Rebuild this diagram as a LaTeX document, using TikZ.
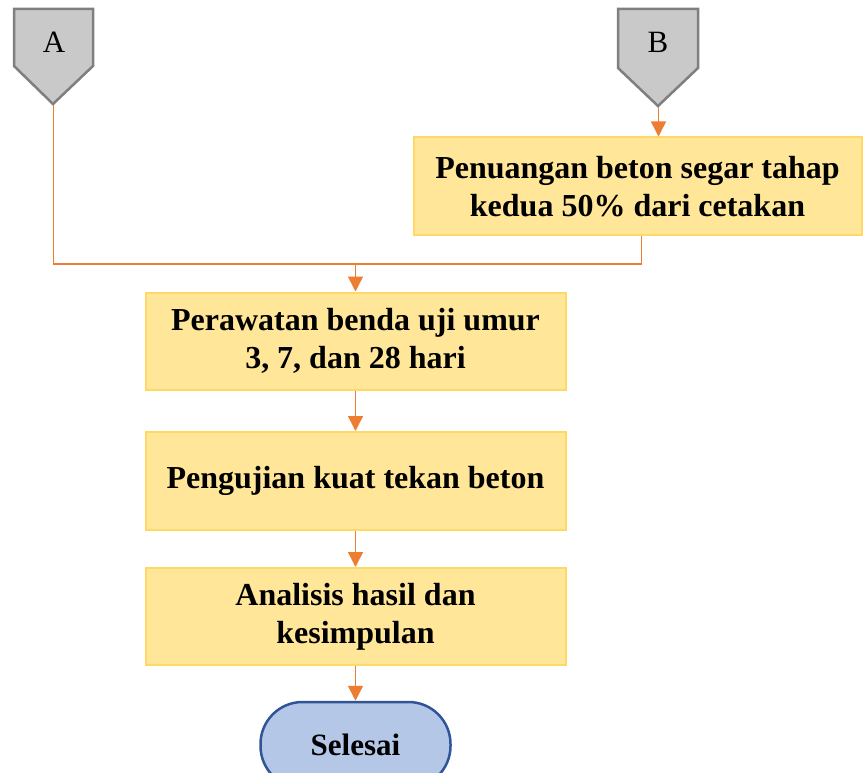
\documentclass[tikz,border=0pt]{standalone}
\usepackage{fontspec}
\setmainfont{Liberation Serif}
\usetikzlibrary{arrows.meta,positioning}
\definecolor{boxfill}{HTML}{FFE699}
\definecolor{boxline}{HTML}{FFD966}
\definecolor{conn}{HTML}{ED7D31}
\definecolor{offfill}{HTML}{C9C9C9}
\definecolor{offline}{HTML}{7F7F7F}
\definecolor{endfill}{HTML}{B4C7E7}
\definecolor{endline}{HTML}{2F5597}
\tikzset{
  procbox/.style={draw=boxline, fill=boxfill, line width=2pt, align=center,
    font=\fontsize{32}{38}\selectfont\bfseries, inner sep=0pt},
  offpage/.style={draw=offline, fill=offfill, line width=2.5pt},
  conline/.style={draw=conn, line width=1.5pt},
  conarrow/.style={conline, -{Triangle[width=15pt,length=15pt]}},
}
\begin{document}
\begin{tikzpicture}[x=1pt,y=-1pt]
\useasboundingbox (0,0) rectangle (863,773);
\clip (0,0) rectangle (863,773);
% off-page connectors
\draw[offpage] (14,9) -- (93,9) -- (93,66) -- (53,104) -- (14,66) -- cycle;
\node[font=\fontsize{31}{34}\selectfont] (A) at (54,42) {A};
\coordinate (Atip) at (53.5,105);
\draw[offpage] (618,9) -- (698,9) -- (698,68) -- (658,106) -- (618,68) -- cycle;
\node[font=\fontsize{31}{34}\selectfont] (B) at (658,42) {B};
\coordinate (Btip) at (658.5,107);
% boxes
\node[procbox, minimum width=448pt, minimum height=98pt] (pen) at (637.5,186.5)
  {Penuangan beton segar tahap\\kedua 50\% dari cetakan};
\node[procbox, minimum width=420pt, minimum height=97pt] (per) at (355.5,341)
  {Perawatan benda uji umur\\3, 7, dan 28 hari};
\node[procbox, minimum width=420pt, minimum height=98pt] (uji) at (355.5,481)
  {Pengujian kuat tekan beton};
\node[procbox, minimum width=420pt, minimum height=97pt] (ana) at (355.5,616.5)
  {Analisis hasil dan\\kesimpulan};
\node[draw=endline, fill=endfill, line width=2.5pt, rounded corners=42pt,
  minimum width=190pt, minimum height=86pt, inner sep=0pt,
  font=\fontsize{31}{34}\selectfont\bfseries] (end) at (355.5,745) {Selesai};
% connectors
\coordinate (join) at (355.5,264);
\draw[conarrow] (Btip) -- (pen.north -| Btip);
\draw[conline] (Atip) |- (join);
\draw[conline] (pen.south -| 641.5,0) |- (join);
\draw[conarrow] (join) -- (per.north);
\draw[conarrow] (per.south) -- (uji.north);
\draw[conarrow] (uji.south) -- (ana.north);
\draw[conarrow] (ana.south) -- (end.north);
\end{tikzpicture}
\end{document}
